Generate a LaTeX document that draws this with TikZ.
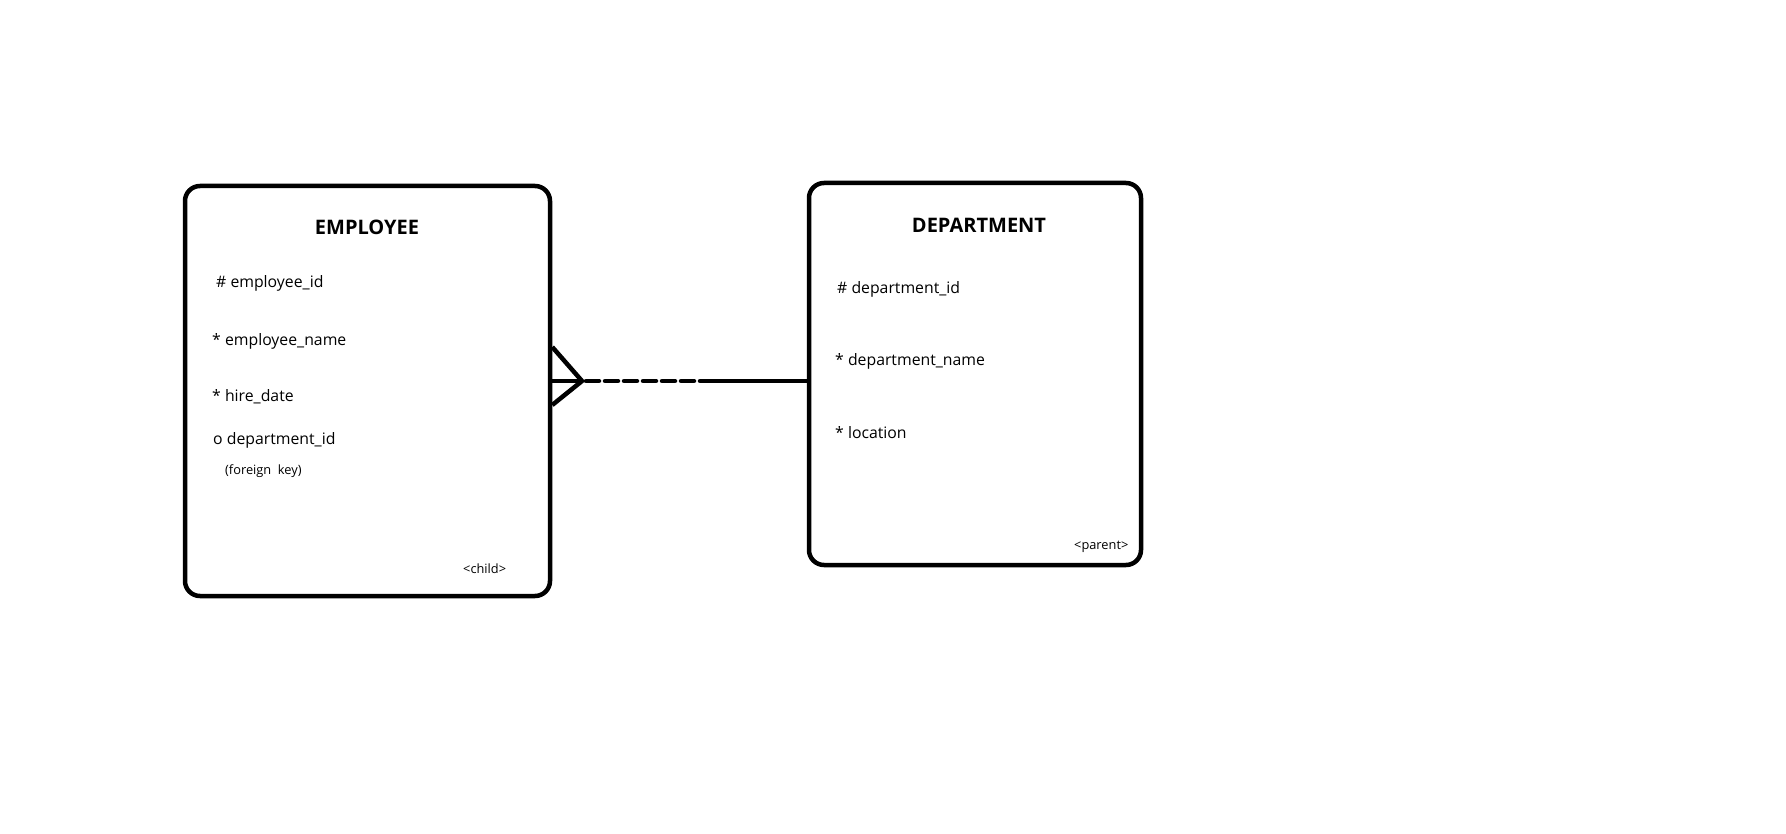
\documentclass[tikz,border=0pt]{standalone}
\usepackage{fontspec}
\setmainfont{Open Sans}
\begin{document}
\begin{tikzpicture}[x=1pt,y=-1pt,
  entity/.style={draw,line width=4.5pt,rounded corners=15pt,inner sep=0pt},
  title/.style={font=\fontsize{20}{23}\selectfont\bfseries,inner sep=0pt},
  attr/.style={font=\fontsize{15.8}{18}\selectfont,anchor=west,inner sep=0pt},
  note/.style={font=\fontsize{12.8}{15}\selectfont,anchor=west,inner sep=0pt},
  link/.style={line width=4.5pt}
]
\useasboundingbox (0,0) rectangle (1786,834);

% entity boxes
\node[entity,minimum width=365pt,minimum height=410pt] (emp) at (367.5,391) {};
\node[entity,minimum width=332pt,minimum height=382pt] (dept) at (975,374) {};

% EMPLOYEE
\node[title] (empT) at (367,227) {EMPLOYEE};
\node[attr] (e1) at (216,283) {\# employee\_id};
\node[attr] (e2) at (212,341) {* employee\_name};
\node[attr] (e3) at (212,397) {* hire\_date};
\node[attr] (e4) at (213,440) {o department\_id};
\node[note] (e5) at (225,471) {(foreign\ \ key)};
\node[note] (e6) at (463,569) {<child>};

% DEPARTMENT
\node[title] (deptT) at (979,225) {DEPARTMENT};
\node[attr] (d1) at (837,289) {\# department\_id};
\node[attr] (d2) at (835,361) {* department\_name};
\node[attr] (d3) at (835,433) {* location};
\node[note] (d4) at (1074,547) {<parent>};

% relationship: crow's foot on the child side, optional (dashed) then mandatory
\coordinate (tip) at (582,381);
\coordinate (footA) at (emp.east |- 0,347);
\coordinate (footB) at (emp.east |- tip);
\coordinate (footC) at (emp.east |- 0,405);
\coordinate (split) at (700,381);
\draw[link,line join=miter] (footA) -- (tip) -- (footC);
\draw[link] (footB) -- (tip);
\draw[link,line cap=round,dash pattern=on 13pt off 6pt] ([xshift=4pt]tip) -- (split);
\draw[link] (split) -- (dept.west |- tip);
\end{tikzpicture}
\end{document}
